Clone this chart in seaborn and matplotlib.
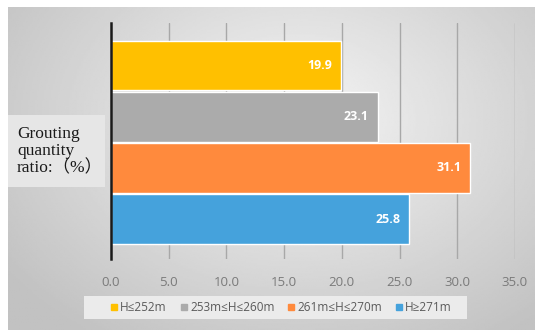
"""Horizontal bar chart: grouting quantity ratio by elevation band."""

import matplotlib.pyplot as plt
import numpy as np
import pandas as pd
import seaborn as sns
from matplotlib.patches import Rectangle

# data
categories = ["H≤252m", "253m≤H≤260m", "261m≤H≤270m", "H≥271m"]
ratios = [19.9, 23.1, 31.1, 25.8]
bar_colors = ["#FFC000", "#ABABAB", "#FF8A3D", "#45A2DC"]
x_ticks = [0.0, 5.0, 10.0, 15.0, 20.0, 25.0, 30.0, 35.0]
ylabel_text = "Grouting\nquantity\nratio:（%）"

sns.set_theme(style="white")
plt.rcParams["font.family"] = ["Open Sans", "DejaVu Sans"]

df = pd.DataFrame({"band": categories, "ratio": ratios})

fig = plt.figure(figsize=(5.5, 3.36), dpi=100)
fig.patch.set_facecolor("white")

# gradient background panel
bg = fig.add_axes([8 / 550, 6 / 336, 527 / 550, 323 / 336])
yy, xx = np.mgrid[0:1:200j, 0:1:300j]
dist = np.sqrt(((xx - 0.55) / 0.75) ** 2 + ((yy - 0.35) / 0.9) ** 2)
shade = np.clip(0.96 - 0.22 * dist, 0.76, 0.96)
bg.imshow(shade, cmap="gray", vmin=0, vmax=1, aspect="auto", extent=[0, 1, 0, 1], origin="upper")
bg.set_axis_off()

# y label box
fig.patches.append(Rectangle((8 / 550, 1 - 187 / 336), 97 / 550, 72 / 336,
                             transform=fig.transFigure, facecolor="#e6e6e6",
                             edgecolor="none", zorder=1))
fig.text(17 / 550, 1 - 151 / 336, ylabel_text, ha="left", va="center",
         fontsize=12.5, color="#1a1a1a", linespacing=1.1,
         family=["Liberation Serif", "Noto Sans CJK SC"], zorder=2)

ax = fig.add_axes([111 / 550, 1 - 259 / 336, 404 / 550, 236 / 336])
ax.patch.set_alpha(0)

sns.barplot(data=df, x="ratio", y="band", hue="band", palette=bar_colors,
            order=categories, hue_order=categories, dodge=False, orient="h",
            width=0.97, saturation=1, legend=False, ax=ax, zorder=3)

for i, v in enumerate(ratios):
    ax.text(v - 0.75, i, f"{v:.1f}", ha="right", va="center", color="white",
            fontsize=9, fontweight="bold", zorder=4)

ax.set_xlim(0, 35)
ax.set_ylim(3.78, -0.83)
ax.set_xticks(x_ticks)
ax.set_xticklabels([f"{t:.1f}" for t in x_ticks], color="#7a7a7a", fontsize=9.5)
ax.tick_params(axis="x", length=0, pad=12)
ax.set_yticks([])
ax.set_xlabel("")
ax.set_ylabel("")
for t in x_ticks[1:]:
    ax.axvline(t, color="#a8a8a8", lw=1.0, zorder=1)
for side in ["top", "right", "bottom"]:
    ax.spines[side].set_visible(False)
ax.spines["left"].set_color("#1a1a1a")
ax.spines["left"].set_linewidth(1.8)
ax.spines["left"].set_zorder(5)

# legend box
fig.patches.append(Rectangle((84 / 550, 1 - 319 / 336), 383 / 550, 23 / 336,
                             transform=fig.transFigure, facecolor="#ebebeb",
                             edgecolor="none", zorder=1))
handles = [plt.Line2D([], [], marker="s", linestyle="", markersize=4,
                      markerfacecolor=c, markeredgecolor=c) for c in bar_colors]
fig.legend(handles, categories, loc="center", bbox_to_anchor=(280 / 550, 1 - 307.5 / 336),
           ncol=4, frameon=False, fontsize=8.5, handletextpad=0.05, columnspacing=0.9,
           handlelength=1.0, labelcolor="#5a5a5a")

fig.savefig("out.png", dpi=100)
